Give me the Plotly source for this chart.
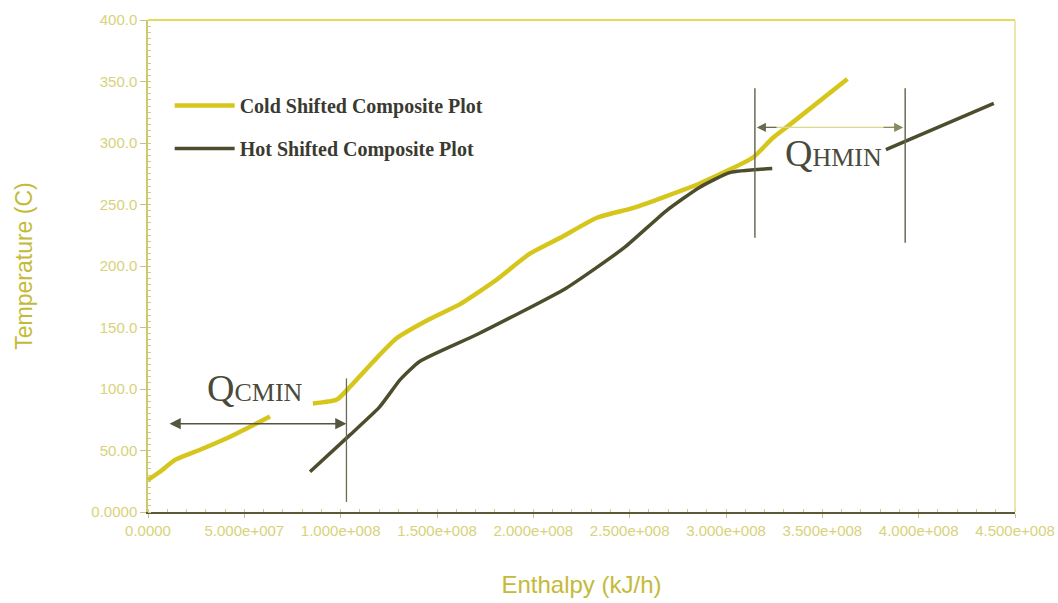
import plotly.graph_objects as go

# ---- data ----
cold_H = [0, 6.2e6, 1.40e7, 2.70e7, 4.26e7, 6.33e7, None,
          8.56e7, 9.81e7, 1.05e8, 1.17e8, 1.29e8, 1.46e8, 1.62e8, 1.80e8, 1.98e8,
          2.14e8, 2.33e8, 2.52e8, 2.86e8, 3.14e8, 3.24e8, 3.32e8, 3.63e8]
cold_T = [26.1, 32.7, 42.4, 50.6, 61.2, 77.6, None,
          88.2, 91.4, 102, 122.4, 141.2, 156.7, 169, 187.8, 209.8,
          222.9, 239.2, 247.3, 266.9, 288.2, 303.7, 313.5, 352.0]

hot_H = [8.41e7, 1.05e8, 1.20e8, 1.31e8, 1.41e8, 1.71e8, 2.17e8, 2.47e8, 2.69e8,
         2.86e8, 3.02e8, 3.24e8, None, 3.83e8, 4.39e8]
hot_T = [32.7, 62.9, 85.0, 107.8, 122.4, 144.5, 182.0, 214.7, 244.9,
         263.7, 275.9, 279.2, None, 294.7, 332.2]

x_tickvals = [0, 5e7, 1e8, 1.5e8, 2e8, 2.5e8, 3e8, 3.5e8, 4e8, 4.5e8]
x_ticktext = ["0.0000", "5.000e+007", "1.000e+008", "1.500e+008", "2.000e+008",
              "2.500e+008", "3.000e+008", "3.500e+008", "4.000e+008", "4.500e+008"]
y_tickvals = [0, 50, 100, 150, 200, 250, 300, 350, 400]
y_ticktext = ["0.0000", "50.00", "100.0", "150.0", "200.0", "250.0", "300.0", "350.0", "400.0"]

# Qmin markers (enthalpy positions / temperature levels)
qc_left, qc_right, qc_T = 1.04e7, 1.03e8, 71.8
qc_vline_T = (8.2, 108.6)
qh_left, qh_right, qh_T = 3.15e8, 3.93e8, 312.7
qh_vline_T = (222.9, 344.5)

COLD = "#d6c61c"
HOT = "#4d4d2e"
TICK = "#d8d27a"
TITLE = "#c4ba38"
DARK = "#4a4a3a"

fig = go.Figure()
fig.add_trace(go.Scatter(x=cold_H, y=cold_T, mode="lines", name="Cold Shifted Composite Plot",
                         line=dict(color=COLD, width=4.5, shape="spline", smoothing=0.5),
                         connectgaps=False, legendgroup="c"))
fig.add_trace(go.Scatter(x=hot_H, y=hot_T, mode="lines", name="Hot Shifted Composite Plot",
                         line=dict(color=HOT, width=3.5, shape="spline", smoothing=0.5),
                         connectgaps=False, legendgroup="h"))

shapes = []
# frame lines top and right (yellow)
shapes.append(dict(type="line", xref="paper", yref="paper", x0=0, x1=1, y0=1, y1=1,
                   line=dict(color="#e2dc5a", width=2)))
shapes.append(dict(type="line", xref="paper", yref="paper", x0=1, x1=1, y0=0, y1=1,
                   line=dict(color="#e6e08a", width=1.5)))
# vertical markers
shapes.append(dict(type="line", x0=qc_right, x1=qc_right, y0=qc_vline_T[0], y1=qc_vline_T[1],
                   line=dict(color="#6a6a55", width=1.3)))
shapes.append(dict(type="line", x0=qh_left, x1=qh_left, y0=qh_vline_T[0], y1=qh_vline_T[1],
                   line=dict(color="#6a6a55", width=1.5)))
shapes.append(dict(type="line", x0=qh_right, x1=qh_right, y0=qh_vline_T[0] - 4, y1=qh_vline_T[1],
                   line=dict(color="#6a6a55", width=1.5)))
# Qhmin arrow shaft (light yellow)
shapes.append(dict(type="line", x0=qh_left + 4e6, x1=qh_right - 4e6, y0=qh_T, y1=qh_T,
                   line=dict(color="#dcd88c", width=1.2)))

annotations = []
# Qcmin double arrow
annotations.append(dict(x=qc_right, y=qc_T, ax=qc_left, ay=qc_T, xref="x", yref="y",
                        axref="x", ayref="y", text="", showarrow=True, arrowhead=2,
                        arrowside="end+start", arrowsize=1.4, arrowwidth=1.6, arrowcolor="#555540"))
# Qhmin arrow heads
annotations.append(dict(x=qh_left + 1e6, y=qh_T, ax=qh_left + 1.2e7, ay=qh_T, xref="x", yref="y",
                        axref="x", ayref="y", text="", showarrow=True, arrowhead=2,
                        arrowsize=1.3, arrowwidth=1.4, arrowcolor="#6a6a50"))
annotations.append(dict(x=qh_right - 1e6, y=qh_T, ax=qh_right - 1.2e7, ay=qh_T, xref="x", yref="y",
                        axref="x", ayref="y", text="", showarrow=True, arrowhead=2,
                        arrowsize=1.3, arrowwidth=1.4, arrowcolor="#8a8a60"))
# labels
annotations.append(dict(x=(qc_left + qc_right) / 2 - 0.1e7, y=qc_T + 29, xref="x", yref="y",
                        text="<span style='font-size:38px'>Q</span><span style='font-size:26px'>CMIN</span>",
                        showarrow=False, font=dict(family="Liberation Serif", color=DARK, size=26)))
annotations.append(dict(x=(qh_left + qh_right) / 2 + 0.2e7, y=qh_T - 21, xref="x", yref="y",
                        text="<span style='font-size:38px'>Q</span><span style='font-size:26px'>HMIN</span>",
                        showarrow=False, font=dict(family="Liberation Serif", color=DARK, size=26)))

fig.update_layout(
    width=1058, height=603,
    margin=dict(l=148, r=43, t=20, b=91, autoexpand=False),
    paper_bgcolor="white", plot_bgcolor="white",
    showlegend=True,
    legend=dict(x=0.025, y=0.866, xanchor="left", yanchor="top", bgcolor="rgba(0,0,0,0)",
                font=dict(family="Liberation Serif", size=20, color="#3a3a30", weight="bold"),
                tracegroupgap=14, itemwidth=60),
    shapes=shapes, annotations=annotations,
    xaxis=dict(range=[0, 4.5e8], tickvals=x_tickvals, ticktext=x_ticktext, automargin=False,
               showgrid=False, zeroline=False, showline=True, linecolor="#5a5a3a", linewidth=2,
               ticks="outside", ticklen=4, tickcolor="#c8c27a",
               minor=dict(ticks="inside", ticklen=3, dtick=1e7, tickcolor="#cfc98a", showgrid=False),
               tickfont=dict(family="Liberation Sans", size=15, color=TICK),
               title=dict(text="Enthalpy (kJ/h)", standoff=38,
                          font=dict(family="Liberation Sans", size=24, color=TITLE))),
    yaxis=dict(range=[0, 400], tickvals=y_tickvals, ticktext=y_ticktext, automargin=False,
               showgrid=False, zeroline=False, showline=True, linecolor="#cfc86a", linewidth=1.5,
               ticks="outside", ticklen=6, tickcolor="#c8c27a",
               minor=dict(ticks="inside", ticklen=3, dtick=5, tickcolor="#cfc98a", showgrid=False),
               tickfont=dict(family="Liberation Sans", size=15, color=TICK),
               title=dict(text="Temperature (C)", standoff=52,
                          font=dict(family="Liberation Sans", size=23, color=TITLE))),
)

fig.write_html("out.html")
